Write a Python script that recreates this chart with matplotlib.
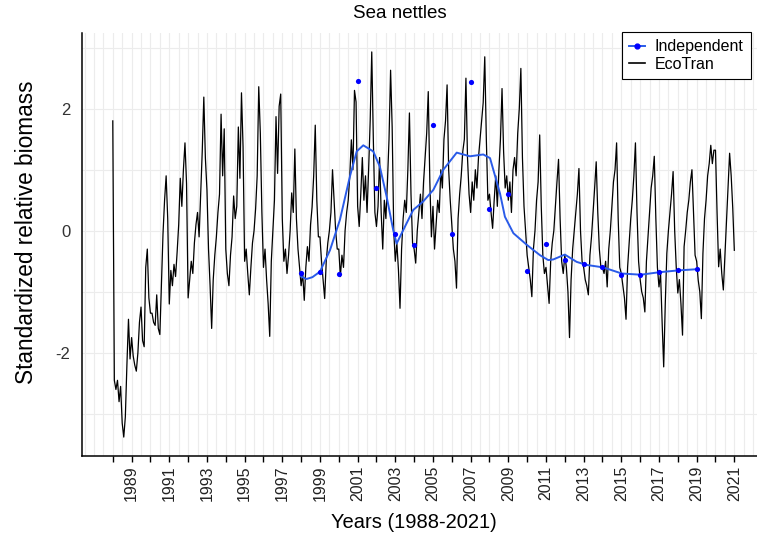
import matplotlib
matplotlib.use("Agg")
import matplotlib.pyplot as plt
from matplotlib.lines import Line2D
import numpy as np

# ---------------- data ----------------
start_year = 1988
# EcoTran monthly values, one list per year (Jan..Dec), plus final Jan 2021
eco_1988 = [1.8, -2.45, -2.6, -2.45, -2.8, -2.55, -3.15, -3.38, -3.05, -2.2, -1.45, -2.1]
eco_1989 = [-1.75, -2.05, -2.2, -2.3, -2.0, -1.5, -1.25, -1.8, -1.9, -0.6, -0.3, -1.1]
eco_1990 = [-1.35, -1.35, -1.5, -1.55, -1.05, -1.6, -1.7, -0.9, -0.05, 0.5, 0.9, 0.2]
eco_1991 = [-1.2, -0.65, -0.9, -0.55, -0.75, -0.35, 0.1, 0.86, 0.4, 1.0, 1.44, 0.77]
eco_1992 = [-1.1, -0.8, -0.5, -0.7, -0.2, 0.1, 0.3, -0.1, 0.6, 1.3, 2.19, 1.19]
eco_1993 = [0.67, -0.3, -0.9, -1.6, -0.8, -0.4, -0.1, 0.3, 0.6, 1.91, 0.9, 1.67]
eco_1994 = [-0.3, -0.7, -0.9, -0.4, -0.1, 0.57, 0.2, 0.4, 1.7, 0.86, 2.26, 1.38]
eco_1995 = [-0.5, -0.3, -0.7, -1.05, -0.6, -0.2, 0.0, 0.36, 0.9, 2.36, 1.6, 0.3]
eco_1996 = [-0.6, -0.3, -0.8, -1.2, -1.73, -0.5, 0.0, 0.5, 1.87, 0.94, 2.04, 2.24]
eco_1997 = [0.2, -0.5, -0.3, -0.7, -0.4, 0.0, 0.62, 0.3, 1.34, 0.2, -0.3, -0.6]
eco_1998 = [-0.9, -0.7, -1.14, -0.6, -0.26, -0.5, 0.1, 0.39, 0.9, 1.73, 0.5, -0.1]
eco_1999 = [-0.1, -0.5, -0.8, -1.11, -0.5, -0.2, 0.0, 0.3, 1.0, 0.5, 0.0, -0.3]
eco_2000 = [-0.3, -0.75, -0.4, -0.6, 0.0, 0.3, 0.5, 0.9, 1.49, 1.0, 2.3, 2.11]
eco_2001 = [0.4, 0.07, 0.6, 1.2, 0.5, 0.9, 0.3, 1.0, 1.8, 2.93, 1.5, 0.3]
eco_2002 = [0.07, 0.4, 1.2, 0.3, -0.3, 0.5, 0.2, 0.8, 1.5, 2.63, 1.7, 0.0]
eco_2003 = [-0.5, -0.2, -0.64, -1.27, -0.3, 0.2, 0.5, 0.3, 1.0, 1.93, 0.6, -0.2]
eco_2004 = [-0.3, -0.53, 0.0, 0.3, 0.6, 0.2, 0.8, 1.2, 1.6, 2.28, 0.8, -0.1]
eco_2005 = [0.4, -0.3, 0.1, 0.5, 0.3, 1.0, 0.7, 1.5, 1.8, 2.39, 1.0, 0.5]
eco_2006 = [0.1, -0.3, -0.5, -0.94, 0.2, 0.6, 0.9, 1.3, 1.5, 2.5, 1.2, 0.6]
eco_2007 = [0.3, 0.8, 0.5, 1.0, 0.7, 1.2, 1.5, 1.8, 2.1, 2.85, 1.5, 0.5]
eco_2008 = [0.6, 0.3, 0.04, 0.5, 0.9, 0.4, 1.0, 1.5, 2.33, 1.3, 0.7, 0.9]
eco_2009 = [0.5, 0.8, 0.3, 1.0, 1.2, 0.9, 1.6, 2.0, 2.66, 1.2, 0.4, 0.0]
eco_2010 = [-0.4, -0.6, -0.8, -1.08, -0.3, 0.0, 0.5, 0.8, 1.57, 0.4, -0.4, -0.7]
eco_2011 = [-0.6, -0.9, -1.19, -0.5, -0.2, 0.0, 0.4, 0.8, 1.17, 0.2, -0.5, -0.7]
eco_2012 = [-0.4, -0.6, -1.0, -1.75, -0.8, -0.3, 0.0, 0.3, 0.6, 1.02, 0.0, -0.5]
eco_2013 = [-0.6, -0.8, -0.9, -1.05, -0.4, -0.1, 0.3, 0.7, 1.13, 0.3, -0.3, -0.6]
eco_2014 = [-0.6, -0.7, -0.5, -0.92, -0.3, 0.0, 0.4, 0.8, 1.0, 1.44, 0.2, -0.6]
eco_2015 = [-0.7, -0.9, -1.1, -1.45, -0.6, -0.2, 0.2, 0.5, 0.9, 1.44, 0.3, -0.5]
eco_2016 = [-0.8, -1.0, -1.1, -1.33, -0.5, -0.1, 0.3, 0.7, 0.9, 1.22, 0.2, -0.6]
eco_2017 = [-0.92, -0.7, -1.5, -2.23, -1.2, -0.37, 0.0, 0.3, 0.6, 0.97, 0.0, -0.6]
eco_2018 = [-1.02, -0.8, -1.2, -1.71, -0.26, 0.0, 0.3, 0.5, 0.8, 1.0, 0.3, -0.4]
eco_2019 = [-0.5, -0.81, -1.0, -1.44, -0.37, 0.2, 0.5, 0.9, 1.1, 1.40, 1.1, 1.32]
eco_2020 = [1.32, 0.3, -0.59, -0.3, -0.7, -0.97, -0.4, 0.2, 0.7, 1.27, 0.9, 0.37]
eco_2021 = [-0.32]

ind_years = [1998, 1999, 2000, 2001, 2002, 2003, 2004, 2005, 2006, 2007, 2008,
             2009, 2010, 2011, 2012, 2013, 2014, 2015, 2016, 2017, 2018, 2019]
ind_values = [-0.69, -0.67, -0.71, 2.46, 0.70, -0.05, -0.23, 1.74, -0.05, 2.44, 0.35,
              0.61, -0.66, -0.22, -0.48, -0.55, -0.60, -0.72, -0.72, -0.68, -0.65, -0.63]

# smoothed Independent curve
smooth_x = [1998.0, 1998.29, 1998.6, 1999.0, 1999.53, 2000.06, 2000.59, 2000.95, 2001.3,
            2001.83, 2002.18, 2002.54, 2002.89, 2003.07, 2003.42, 2003.95, 2004.48,
            2005.02, 2005.55, 2006.26, 2006.96, 2007.67, 2008.03, 2008.56, 2008.82,
            2009.27, 2009.98, 2010.68, 2011.12, 2011.39, 2012.0, 2012.63, 2013.16,
            2014.04, 2015.02, 2016.03, 2017.0, 2018.0, 2019.0]
smooth_y = [-0.75, -0.79, -0.76, -0.67, -0.32, 0.18, 0.89, 1.30, 1.40,
            1.30, 1.05, 0.56, 0.01, -0.21, 0.01, 0.34, 0.48,
            0.67, 1.00, 1.28, 1.22, 1.25, 1.19, 0.61, 0.23,
            -0.04, -0.23, -0.40, -0.48, -0.47, -0.39, -0.51, -0.56,
            -0.60, -0.70, -0.72, -0.68, -0.65, -0.63]

eco_values = (eco_1988 + eco_1989 + eco_1990 + eco_1991 + eco_1992 + eco_1993 + eco_1994 +
              eco_1995 + eco_1996 + eco_1997 + eco_1998 + eco_1999 + eco_2000 + eco_2001 +
              eco_2002 + eco_2003 + eco_2004 + eco_2005 + eco_2006 + eco_2007 + eco_2008 +
              eco_2009 + eco_2010 + eco_2011 + eco_2012 + eco_2013 + eco_2014 + eco_2015 +
              eco_2016 + eco_2017 + eco_2018 + eco_2019 + eco_2020 + eco_2021)
eco_time = start_year + np.arange(len(eco_values)) / 12.0

tick_years = list(range(1988, 2022))
tick_labels = [str(y) if y % 2 == 1 else "" for y in tick_years]

# ---------------- figure ----------------
W, H = 757, 552
fig = plt.figure(figsize=(W / 100, H / 100), dpi=100)
plt.rcParams['font.family'] = ['Liberation Sans', 'DejaVu Sans']

left, right, bottom, top = 81.7, 765.4, 456, 33
ax = fig.add_axes([left / W, 1 - bottom / H, (right - left) / W, (bottom - top) / H])

grid_c = '#ECECEC'
for gx in np.arange(1986.5, 2023.0, 0.5):
    ax.axvline(gx, color=grid_c, lw=0.8, zorder=0)
for gy in [-3, -2, -1, 0, 1, 2, 3]:
    ax.axhline(gy, color=grid_c, lw=0.8, zorder=0)

ax.plot(eco_time, eco_values, color='black', lw=0.9, zorder=2)
ax.plot(smooth_x, smooth_y, color='#2A5BE8', lw=1.4, zorder=3)
ax.scatter(ind_years, ind_values, s=14, color='#0000FF', zorder=4, linewidths=0)

ax.set_xlim(1986.35, 2022.65)
ax.set_ylim(-3.69, 3.24)

ax.set_xticks(tick_years)
ax.set_xticklabels(tick_labels, rotation=90, fontsize=11.5)
ax.set_yticks([-2, 0, 2])
ax.set_yticklabels(['-2', '0', '2'], fontsize=12, color='#333333')
for lab in ax.get_xticklabels():
    lab.set_color('#222222')
ax.tick_params(axis='x', length=4, width=1, direction='out', pad=3)
ax.tick_params(axis='y', length=0, pad=8)

for s in ['top', 'right']:
    ax.spines[s].set_visible(False)
ax.spines['left'].set_linewidth(1.1)
ax.spines['bottom'].set_linewidth(1.1)

fig.text(400 / W, 1 - 14 / H, 'Sea nettles', ha='center', va='center', fontsize=13.5)
fig.text(414 / W, 1 - 522 / H, 'Years (1988-2021)', ha='center', va='center', fontsize=14.5)
fig.text(27 / W, 1 - 232 / H, 'Standardized relative biomass', ha='center', va='center',
         rotation=90, fontsize=16.3)

handles = [Line2D([0], [0], color='#2A5BE8', lw=1.4, marker='o', markersize=3.5,
                  markerfacecolor='#0000FF', markeredgecolor='#0000FF'),
           Line2D([0], [0], color='black', lw=1.2)]
leg = ax.legend(handles, ['Independent', 'EcoTran'], loc='upper right',
                bbox_to_anchor=(751 / W, 1 - 32 / H), bbox_transform=fig.transFigure,
                fontsize=11.5, frameon=True, fancybox=False, framealpha=1,
                handlelength=1.0, handletextpad=0.6, borderpad=0.45, labelspacing=0.15,
                borderaxespad=0)
leg.get_frame().set_edgecolor('black')
leg.get_frame().set_linewidth(0.8)

fig.savefig('out.png', dpi=100)
